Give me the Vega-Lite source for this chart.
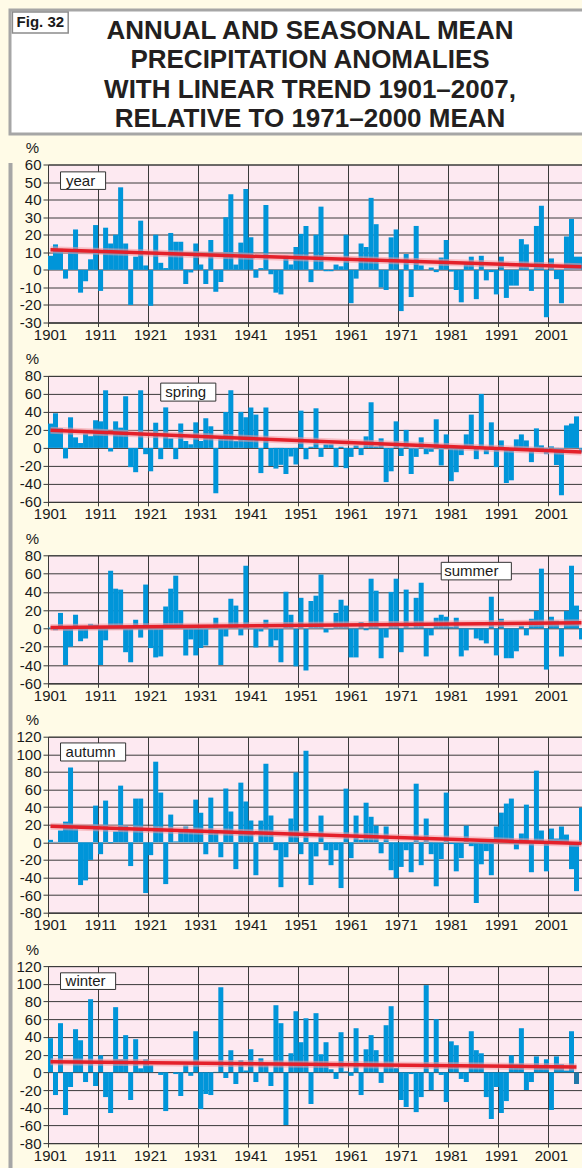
{
  "$schema": "https://vega.github.io/schema/vega-lite/v6.json",
  "background": "#fffbe7",
  "padding": {"left": 8, "top": 8, "right": 0, "bottom": 0},
  "config": {
    "font": "Liberation Sans",
    "view": {"fill": "#fde9f1", "stroke": "#3a3a3a", "strokeWidth": 1},
    "axis": {"labelFont": "Liberation Sans", "labelFontSize": 15, "labelColor": "#1a1a1a", "gridColor": "#3a3a3a", "gridOpacity": 1, "gridWidth": 1, "domainColor": "#3a3a3a", "tickColor": "#3a3a3a", "titleFont": "Liberation Sans", "titleFontSize": 15, "titleFontWeight": "normal", "titleColor": "#1a1a1a"},
    "axisY": {"grid": true, "labelOverlap": false, "tickCount": 30, "tickSize": 5, "labelPadding": 2, "titleAngle": 0, "titleX": -16, "titleY": -12, "titleAlign": "center", "titleBaseline": "alphabetic", "minExtent": 34.5}
  },
  "datasets": {
    "year": [
      {"year":1901,"value":8},{"year":1902,"value":14.5},{"year":1903,"value":12},{"year":1904,"value":-5},{"year":1905,"value":11},{"year":1906,"value":23},{"year":1907,"value":-13},{"year":1908,"value":-6.5},{"year":1909,"value":6},{"year":1910,"value":25.5},
      {"year":1911,"value":-12},{"year":1912,"value":24},{"year":1913,"value":15},{"year":1914,"value":20},{"year":1915,"value":47},{"year":1916,"value":15},{"year":1917,"value":-20},{"year":1918,"value":7.5},{"year":1919,"value":28},{"year":1920,"value":2.5},
      {"year":1921,"value":-20.5},{"year":1922,"value":20},{"year":1923,"value":4},{"year":1924,"value":1},{"year":1925,"value":21},{"year":1926,"value":16},{"year":1927,"value":16},{"year":1928,"value":-8},{"year":1929,"value":-1.5},{"year":1930,"value":15},
      {"year":1931,"value":3},{"year":1932,"value":-8},{"year":1933,"value":17},{"year":1934,"value":-12.5},{"year":1935,"value":-7},{"year":1936,"value":30},{"year":1937,"value":43},{"year":1938,"value":3},{"year":1939,"value":15.5},{"year":1940,"value":46},
      {"year":1941,"value":18.5},{"year":1942,"value":-4.5},{"year":1943,"value":1},{"year":1944,"value":37},{"year":1945,"value":-2.5},{"year":1946,"value":-13},{"year":1947,"value":-14},{"year":1948,"value":8},{"year":1949,"value":3},{"year":1950,"value":13},
      {"year":1951,"value":20.5},{"year":1952,"value":25},{"year":1953,"value":-7},{"year":1954,"value":20},{"year":1955,"value":36},{"year":1956,"value":-0.8},{"year":1957,"value":-0.8},{"year":1958,"value":3},{"year":1959,"value":2},{"year":1960,"value":20},
      {"year":1961,"value":-19},{"year":1962,"value":-5},{"year":1963,"value":15},{"year":1964,"value":13},{"year":1965,"value":41},{"year":1966,"value":26},{"year":1967,"value":-10},{"year":1968,"value":-11.5},{"year":1969,"value":18.5},{"year":1970,"value":23},
      {"year":1971,"value":-23.5},{"year":1972,"value":9},{"year":1973,"value":-15.5},{"year":1974,"value":25},{"year":1975,"value":2.5},{"year":1976,"value":0},{"year":1977,"value":1.3},{"year":1978,"value":-1.3},{"year":1979,"value":7},{"year":1980,"value":17},
      {"year":1981,"value":-1},{"year":1982,"value":-11.5},{"year":1983,"value":-18.5},{"year":1984,"value":4},{"year":1985,"value":7.5},{"year":1986,"value":-16.7},{"year":1987,"value":8},{"year":1988,"value":-6},{"year":1989,"value":-1.3},{"year":1990,"value":-14},
      {"year":1991,"value":7.5},{"year":1992,"value":-16},{"year":1993,"value":-9},{"year":1994,"value":-9},{"year":1995,"value":17.5},{"year":1996,"value":14.5},{"year":1997,"value":-12},{"year":1998,"value":25},{"year":1999,"value":36.5},{"year":2000,"value":-27},
      {"year":2001,"value":6.5},{"year":2002,"value":-5.3},{"year":2003,"value":-19},{"year":2004,"value":19},{"year":2005,"value":29},{"year":2006,"value":7.5},{"year":2007,"value":7.5}
    ],
    "spring": [
      {"year":1901,"value":27},{"year":1902,"value":38.5},{"year":1903,"value":22},{"year":1904,"value":-11.7},{"year":1905,"value":34},{"year":1906,"value":11.7},{"year":1907,"value":5.4},{"year":1908,"value":16},{"year":1909,"value":13},{"year":1910,"value":30.7},
      {"year":1911,"value":29.5},{"year":1912,"value":64},{"year":1913,"value":-4},{"year":1914,"value":29.5},{"year":1915,"value":22.5},{"year":1916,"value":57.4},{"year":1917,"value":-21.4},{"year":1918,"value":-27},{"year":1919,"value":64},{"year":1920,"value":-7},
      {"year":1921,"value":-26},{"year":1922,"value":28},{"year":1923,"value":-12.5},{"year":1924,"value":45},{"year":1925,"value":10.6},{"year":1926,"value":-12.5},{"year":1927,"value":27},{"year":1928,"value":7.6},{"year":1929,"value":4},{"year":1930,"value":28.4},
      {"year":1931,"value":7.6},{"year":1932,"value":33},{"year":1933,"value":24},{"year":1934,"value":-50.4},{"year":1935,"value":12},{"year":1936,"value":40},{"year":1937,"value":64},{"year":1938,"value":7.6},{"year":1939,"value":40},{"year":1940,"value":34},
      {"year":1941,"value":45},{"year":1942,"value":37},{"year":1943,"value":-28},{"year":1944,"value":45},{"year":1945,"value":-20},{"year":1946,"value":-23},{"year":1947,"value":-18.8},{"year":1948,"value":-29},{"year":1949,"value":-9.5},{"year":1950,"value":-18.4},
      {"year":1951,"value":41.4},{"year":1952,"value":-12.5},{"year":1953,"value":1.3},{"year":1954,"value":44},{"year":1955,"value":-10},{"year":1956,"value":4},{"year":1957,"value":4},{"year":1958,"value":-21.4},{"year":1959,"value":1.3},{"year":1960,"value":-22.5},
      {"year":1961,"value":-10},{"year":1962,"value":2.8},{"year":1963,"value":-8},{"year":1964,"value":12.8},{"year":1965,"value":50.7},{"year":1966,"value":1.7},{"year":1967,"value":10.6},{"year":1968,"value":-38},{"year":1969,"value":-26},{"year":1970,"value":29.5},
      {"year":1971,"value":-9},{"year":1972,"value":20},{"year":1973,"value":-29},{"year":1974,"value":-10},{"year":1975,"value":11.7},{"year":1976,"value":-7},{"year":1977,"value":-4.3},{"year":1978,"value":31.8},{"year":1979,"value":-19.5},{"year":1980,"value":15},
      {"year":1981,"value":-37},{"year":1982,"value":-27},{"year":1983,"value":-8},{"year":1984,"value":15},{"year":1985,"value":37},{"year":1986,"value":-12.5},{"year":1987,"value":60},{"year":1988,"value":-7},{"year":1989,"value":28.4},{"year":1990,"value":-21.4},
      {"year":1991,"value":8.3},{"year":1992,"value":-39},{"year":1993,"value":-36},{"year":1994,"value":9.5},{"year":1995,"value":15},{"year":1996,"value":8.3},{"year":1997,"value":-15.8},{"year":1998,"value":21.7},{"year":1999,"value":2.8},{"year":2000,"value":-7},
      {"year":2001,"value":1.7},{"year":2002,"value":-19},{"year":2003,"value":-52.6},{"year":2004,"value":25},{"year":2005,"value":27},{"year":2006,"value":35},{"year":2007,"value":-5}
    ],
    "summer": [
      {"year":1901,"value":1},{"year":1902,"value":-2},{"year":1903,"value":17},{"year":1904,"value":-40},{"year":1905,"value":-20},{"year":1906,"value":15},{"year":1907,"value":-14},{"year":1908,"value":-11},{"year":1909,"value":5},{"year":1910,"value":4},
      {"year":1911,"value":-40},{"year":1912,"value":-13},{"year":1913,"value":63},{"year":1914,"value":43.5},{"year":1915,"value":42.5},{"year":1916,"value":-26},{"year":1917,"value":-37},{"year":1918,"value":9.5},{"year":1919,"value":-10},{"year":1920,"value":48},
      {"year":1921,"value":-21.5},{"year":1922,"value":-31.7},{"year":1923,"value":-30.6},{"year":1924,"value":24},{"year":1925,"value":43.5},{"year":1926,"value":57.7},{"year":1927,"value":20},{"year":1928,"value":-29.5},{"year":1929,"value":-12},{"year":1930,"value":-29.5},
      {"year":1931,"value":-21.5},{"year":1932,"value":-18.6},{"year":1933,"value":0.5},{"year":1934,"value":11.7},{"year":1935,"value":-40},{"year":1936,"value":-8.7},{"year":1937,"value":32.5},{"year":1938,"value":25},{"year":1939,"value":-7.6},{"year":1940,"value":68.6},
      {"year":1941,"value":-1},{"year":1942,"value":-20.8},{"year":1943,"value":-3.3},{"year":1944,"value":9.5},{"year":1945,"value":-20},{"year":1946,"value":-13},{"year":1947,"value":-37},{"year":1948,"value":40},{"year":1949,"value":15},{"year":1950,"value":-41.5},
      {"year":1951,"value":33.5},{"year":1952,"value":-46},{"year":1953,"value":30},{"year":1954,"value":35.8},{"year":1955,"value":59},{"year":1956,"value":-4.4},{"year":1957,"value":-1},{"year":1958,"value":17},{"year":1959,"value":31.4},{"year":1960,"value":25},
      {"year":1961,"value":-31.7},{"year":1962,"value":-31.7},{"year":1963,"value":7},{"year":1964,"value":-2},{"year":1965,"value":54.4},{"year":1966,"value":41.3},{"year":1967,"value":-32.6},{"year":1968,"value":-10},{"year":1969,"value":40},{"year":1970,"value":54.4},
      {"year":1971,"value":-26},{"year":1972,"value":42.5},{"year":1973,"value":1},{"year":1974,"value":33.5},{"year":1975,"value":50},{"year":1976,"value":-30.6},{"year":1977,"value":-7.6},{"year":1978,"value":11.7},{"year":1979,"value":15},{"year":1980,"value":12.8},
      {"year":1981,"value":2},{"year":1982,"value":11.7},{"year":1983,"value":-30.6},{"year":1984,"value":-24},{"year":1985,"value":-1},{"year":1986,"value":-11},{"year":1987,"value":-13},{"year":1988,"value":-16.4},{"year":1989,"value":34.7},{"year":1990,"value":-29.5},
      {"year":1991,"value":10.6},{"year":1992,"value":-32.6},{"year":1993,"value":-32.6},{"year":1994,"value":-25},{"year":1995,"value":3},{"year":1996,"value":-7.6},{"year":1997,"value":10.6},{"year":1998,"value":19.3},{"year":1999,"value":65.4},{"year":2000,"value":-45},
      {"year":2001,"value":12.8},{"year":2002,"value":8.4},{"year":2003,"value":-30.6},{"year":2004,"value":19.3},{"year":2005,"value":68.6},{"year":2006,"value":25},{"year":2007,"value":-12}
    ],
    "autumn": [
      {"year":1901,"value":2.8},{"year":1902,"value":0.5},{"year":1903,"value":13.4},{"year":1904,"value":23.5},{"year":1905,"value":85},{"year":1906,"value":15},{"year":1907,"value":-48.6},{"year":1908,"value":-43.3},{"year":1909,"value":-20},{"year":1910,"value":41.7},
      {"year":1911,"value":-13.5},{"year":1912,"value":47.4},{"year":1913,"value":-1},{"year":1914,"value":12.3},{"year":1915,"value":64.4},{"year":1916,"value":19},{"year":1917,"value":-27},{"year":1918,"value":49.7},{"year":1919,"value":49.7},{"year":1920,"value":-57.7},
      {"year":1921,"value":-14.6},{"year":1922,"value":91.6},{"year":1923,"value":56.5},{"year":1924,"value":-47.5},{"year":1925,"value":31.5},{"year":1926,"value":1},{"year":1927,"value":13},{"year":1928,"value":18},{"year":1929,"value":14},{"year":1930,"value":48.5},
      {"year":1931,"value":33.7},{"year":1932,"value":-13.5},{"year":1933,"value":50.8},{"year":1934,"value":14},{"year":1935,"value":-17},{"year":1936,"value":61},{"year":1937,"value":35},{"year":1938,"value":-30.5},{"year":1939,"value":67.8},{"year":1940,"value":46.3},
      {"year":1941,"value":24.7},{"year":1942,"value":-37.4},{"year":1943,"value":24.7},{"year":1944,"value":89.4},{"year":1945,"value":30.4},{"year":1946,"value":-9},{"year":1947,"value":-51},{"year":1948,"value":-17},{"year":1949,"value":27},{"year":1950,"value":79.5},
      {"year":1951,"value":-13.5},{"year":1952,"value":104},{"year":1953,"value":-48.6},{"year":1954,"value":-16},{"year":1955,"value":30.4},{"year":1956,"value":-9},{"year":1957,"value":-26},{"year":1958,"value":-9},{"year":1959,"value":-52},{"year":1960,"value":61},
      {"year":1961,"value":-18},{"year":1962,"value":30.4},{"year":1963,"value":3},{"year":1964,"value":45},{"year":1965,"value":29},{"year":1966,"value":19},{"year":1967,"value":-12.5},{"year":1968,"value":18},{"year":1969,"value":-31.7},{"year":1970,"value":-40.7},
      {"year":1971,"value":-28},{"year":1972,"value":-9},{"year":1973,"value":-34},{"year":1974,"value":66.6},{"year":1975,"value":-26},{"year":1976,"value":27},{"year":1977,"value":-13.5},{"year":1978,"value":-50},{"year":1979,"value":-19},{"year":1980,"value":56.5},
      {"year":1981,"value":-2},{"year":1982,"value":-33},{"year":1983,"value":-18},{"year":1984,"value":19},{"year":1985,"value":-4.4},{"year":1986,"value":-69},{"year":1987,"value":-25},{"year":1988,"value":-10},{"year":1989,"value":-37.4},{"year":1990,"value":18},
      {"year":1991,"value":33.7},{"year":1992,"value":44},{"year":1993,"value":49.7},{"year":1994,"value":-8},{"year":1995,"value":10},{"year":1996,"value":42.8},{"year":1997,"value":-34},{"year":1998,"value":81.4},{"year":1999,"value":13.4},{"year":2000,"value":-33},
      {"year":2001,"value":15.6},{"year":2002,"value":4.3},{"year":2003,"value":18},{"year":2004,"value":8.8},{"year":2005,"value":-30.5},{"year":2006,"value":-55.5},{"year":2007,"value":39.5}
    ],
    "winter": [
      {"year":1901,"value":38.5},{"year":1902,"value":-25.7},{"year":1903,"value":55.5},{"year":1904,"value":-48.3},{"year":1905,"value":-16.6},{"year":1906,"value":48.7},{"year":1907,"value":36.2},{"year":1908,"value":-11},{"year":1909,"value":82.6},{"year":1910,"value":-15.5},
      {"year":1911,"value":19.2},{"year":1912,"value":-28},{"year":1913,"value":-46},{"year":1914,"value":73.6},{"year":1915,"value":14.7},{"year":1916,"value":42},{"year":1917,"value":-31.3},{"year":1918,"value":37.4},{"year":1919,"value":4.5},{"year":1920,"value":14.7},
      {"year":1921,"value":8},{"year":1922,"value":0},{"year":1923,"value":-3},{"year":1924,"value":-43.8},{"year":1925,"value":0},{"year":1926,"value":-2},{"year":1927,"value":-26.8},{"year":1928,"value":8},{"year":1929,"value":-4},{"year":1930,"value":46.4},
      {"year":1931,"value":-41.5},{"year":1932,"value":-24.5},{"year":1933,"value":-25.7},{"year":1934,"value":0.5},{"year":1935,"value":96.2},{"year":1936,"value":-6.4},{"year":1937,"value":25},{"year":1938,"value":-13.2},{"year":1939,"value":13.6},{"year":1940,"value":2},
      {"year":1941,"value":26},{"year":1942,"value":-11},{"year":1943,"value":15.8},{"year":1944,"value":8},{"year":1945,"value":-15.5},{"year":1946,"value":75.8},{"year":1947,"value":55.5},{"year":1948,"value":-59.6},{"year":1949,"value":21.5},{"year":1950,"value":69},
      {"year":1951,"value":34},{"year":1952,"value":61},{"year":1953,"value":-35.8},{"year":1954,"value":66.8},{"year":1955,"value":20.4},{"year":1956,"value":34},{"year":1957,"value":3.4},{"year":1958,"value":-7.5},{"year":1959,"value":45.3},{"year":1960,"value":1},
      {"year":1961,"value":-4},{"year":1962,"value":49.8},{"year":1963,"value":-25.7},{"year":1964,"value":26},{"year":1965,"value":42},{"year":1966,"value":25},{"year":1967,"value":-12},{"year":1968,"value":53.2},{"year":1969,"value":74.7},{"year":1970,"value":5},
      {"year":1971,"value":-31.3},{"year":1972,"value":-39.2},{"year":1973,"value":-2},{"year":1974,"value":-45},{"year":1975,"value":-28},{"year":1976,"value":98.5},{"year":1977,"value":-20},{"year":1978,"value":60},{"year":1979,"value":-3},{"year":1980,"value":-33.6},
      {"year":1981,"value":35},{"year":1982,"value":30.6},{"year":1983,"value":-7.5},{"year":1984,"value":-11},{"year":1985,"value":46.4},{"year":1986,"value":25},{"year":1987,"value":21.5},{"year":1988,"value":-28},{"year":1989,"value":-52.8},{"year":1990,"value":-16.6},
      {"year":1991,"value":-46},{"year":1992,"value":-32.5},{"year":1993,"value":19.2},{"year":1994,"value":9},{"year":1995,"value":49.8},{"year":1996,"value":-20},{"year":1997,"value":-11},{"year":1998,"value":18},{"year":1999,"value":5},{"year":2000,"value":14.7},
      {"year":2001,"value":-42.6},{"year":2002,"value":18},{"year":2003,"value":9},{"year":2004,"value":2},{"year":2005,"value":46.4},{"year":2006,"value":-13.2}
    ],
    "trend": [
      {"season":"year","year":1901,"value":11.4},{"season":"year","year":2007,"value":1.7},
      {"season":"spring","year":1901,"value":19.5},{"season":"spring","year":2007,"value":-4.5},
      {"season":"summer","year":1901,"value":1},{"season":"summer","year":2007,"value":6.2},
      {"season":"autumn","year":1901,"value":18.3},{"season":"autumn","year":2007,"value":-1.4},
      {"season":"winter","year":1901,"value":12},{"season":"winter","year":2006,"value":6}
    ]
  },
  "vconcat": [
    {
      "width": 600,
      "height": 124,
      "view": {"fill": "white", "stroke": "#a6a6a6", "strokeWidth": 3},
      "layer": [
        {
          "data": {"values": [
            {"line": 1, "text": "ANNUAL AND SEASONAL MEAN"},
            {"line": 2, "text": "PRECIPITATION ANOMALIES"},
            {"line": 3, "text": "WITH LINEAR TREND 1901–2007,"},
            {"line": 4, "text": "RELATIVE TO 1971–2000 MEAN"}
          ]},
          "mark": {"type": "text", "font": "Liberation Sans", "fontSize": 26, "fontWeight": "bold", "color": "#231f20"},
          "encoding": {
            "y": {"field": "line", "type": "ordinal", "axis": null, "scale": {"type": "point", "padding": 0.6, "align": 0.58}},
            "text": {"field": "text"}
          }
        },
        {
          "data": {"values": [{}]},
          "mark": {"type": "rect", "fill": "white", "stroke": "#8c8c8c", "strokeWidth": 1.5},
          "encoding": {
            "x": {"datum": 0.4, "type": "quantitative", "scale": {"domain": [0, 100]}, "axis": null},
            "x2": {"datum": 9.7},
            "y": {"datum": 98.4, "type": "quantitative", "scale": {"domain": [0, 100]}, "axis": null},
            "y2": {"datum": 81.5}
          }
        },
        {
          "data": {"values": [{}]},
          "mark": {"type": "text", "font": "Liberation Sans", "fontSize": 15, "fontWeight": "bold", "color": "#1a1a1a"},
          "encoding": {
            "x": {"datum": 5.05, "type": "quantitative", "scale": {"domain": [0, 100]}, "axis": null},
            "y": {"datum": 90, "type": "quantitative", "scale": {"domain": [0, 100]}, "axis": null},
            "text": {"value": "Fig. 32"}
          }
        }
      ],
      "resolve": {"scale": {"y": "independent"}}
    },
    {
      "hconcat": [
        {
          "width": 1, "height": 1003,
          "view": {"fill": "#a6a6a6", "stroke": "#a6a6a6", "strokeWidth": 3},
          "data": {"values": [{}]},
          "mark": {"type": "text", "text": ""}
        },
        {
          "vconcat": [
            {
              "width": 536, "height": 158,
              "layer": [
                {"data": {"name": "year"}, "mark": {"type": "bar", "color": "#0095d9"},
                 "encoding": {
                   "x": {"field": "year", "type": "ordinal", "scale": {"paddingInner": 0, "paddingOuter": 0}, "axis": {"values": [1901,1911,1921,1931,1941,1951,1961,1971,1981,1991,2001], "title": null, "bandPosition": 0, "grid": true, "labelAngle": 0, "tickSize": 4, "labelPadding": 1}},
                   "y": {"field": "value", "type": "quantitative", "scale": {"domain": [-30, 60], "nice": false}, "axis": {"values": [-30,-20,-10,0,10,20,30,40,50,60], "tickCount": 30, "title": "%", "grid": true, "labelOverlap": false, "labelExpr": "datum.value < 0 ? '-' + abs(datum.value) : '' + datum.value"}}
                 }},
                {"data": {"name": "trend"}, "transform": [{"filter": "datum.season == 'year'"}], "mark": {"type": "line", "color": "#f39aa0", "strokeWidth": 7, "opacity": 0.55},
                 "encoding": {"x": {"field": "year", "type": "ordinal"}, "y": {"field": "value", "type": "quantitative"}}},
                {"data": {"name": "trend"}, "transform": [{"filter": "datum.season == 'year'"}], "mark": {"type": "line", "color": "#e4202a", "strokeWidth": 3.5},
                 "encoding": {"x": {"field": "year", "type": "ordinal"}, "y": {"field": "value", "type": "quantitative"}}},
                {"data": {"values": [{}]}, "mark": {"type": "rect", "fill": "white", "stroke": "#333333", "strokeWidth": 1},
                 "encoding": {"x": {"datum": 1903, "type": "ordinal"}, "x2": {"datum": 1912}, "y": {"datum": 45.8, "type": "quantitative"}, "y2": {"datum": 55.8}}},
                {"data": {"values": [{}]}, "mark": {"type": "text", "fontSize": 15, "color": "#1a1a1a", "font": "Liberation Sans"},
                 "encoding": {"x": {"datum": 1907, "type": "ordinal"}, "y": {"datum": 50.8, "type": "quantitative"}, "text": {"value": "year"}}}
              ]
            },
            {
              "width": 536, "height": 126,
              "layer": [
                {"data": {"name": "spring"}, "mark": {"type": "bar", "color": "#0095d9"},
                 "encoding": {
                   "x": {"field": "year", "type": "ordinal", "scale": {"paddingInner": 0, "paddingOuter": 0}, "axis": {"values": [1901,1911,1921,1931,1941,1951,1961,1971,1981,1991,2001], "title": null, "bandPosition": 0, "grid": true, "labelAngle": 0, "tickSize": 4, "labelPadding": 1}},
                   "y": {"field": "value", "type": "quantitative", "scale": {"domain": [-60, 80], "nice": false}, "axis": {"values": [-60,-40,-20,0,20,40,60,80], "tickCount": 30, "title": "%", "grid": true, "labelOverlap": false, "labelExpr": "datum.value < 0 ? '-' + abs(datum.value) : '' + datum.value"}}
                 }},
                {"data": {"name": "trend"}, "transform": [{"filter": "datum.season == 'spring'"}], "mark": {"type": "line", "color": "#f39aa0", "strokeWidth": 7, "opacity": 0.55},
                 "encoding": {"x": {"field": "year", "type": "ordinal"}, "y": {"field": "value", "type": "quantitative"}}},
                {"data": {"name": "trend"}, "transform": [{"filter": "datum.season == 'spring'"}], "mark": {"type": "line", "color": "#e4202a", "strokeWidth": 3.5},
                 "encoding": {"x": {"field": "year", "type": "ordinal"}, "y": {"field": "value", "type": "quantitative"}}},
                {"data": {"values": [{}]}, "mark": {"type": "rect", "fill": "white", "stroke": "#333333", "strokeWidth": 1},
                 "encoding": {"x": {"datum": 1923, "type": "ordinal"}, "x2": {"datum": 1934}, "y": {"datum": 52, "type": "quantitative"}, "y2": {"datum": 72}}},
                {"data": {"values": [{}]}, "mark": {"type": "text", "fontSize": 15, "color": "#1a1a1a", "font": "Liberation Sans"},
                 "encoding": {"x": {"datum": 1928, "type": "ordinal"}, "y": {"datum": 62, "type": "quantitative"}, "text": {"value": "spring"}}}
              ]
            },
            {
              "width": 536, "height": 128,
              "layer": [
                {"data": {"name": "summer"}, "mark": {"type": "bar", "color": "#0095d9"},
                 "encoding": {
                   "x": {"field": "year", "type": "ordinal", "scale": {"paddingInner": 0, "paddingOuter": 0}, "axis": {"values": [1901,1911,1921,1931,1941,1951,1961,1971,1981,1991,2001], "title": null, "bandPosition": 0, "grid": true, "labelAngle": 0, "tickSize": 4, "labelPadding": 1}},
                   "y": {"field": "value", "type": "quantitative", "scale": {"domain": [-60, 80], "nice": false}, "axis": {"values": [-60,-40,-20,0,20,40,60,80], "tickCount": 30, "title": "%", "grid": true, "labelOverlap": false, "labelExpr": "datum.value < 0 ? '-' + abs(datum.value) : '' + datum.value"}}
                 }},
                {"data": {"name": "trend"}, "transform": [{"filter": "datum.season == 'summer'"}], "mark": {"type": "line", "color": "#f39aa0", "strokeWidth": 7, "opacity": 0.55},
                 "encoding": {"x": {"field": "year", "type": "ordinal"}, "y": {"field": "value", "type": "quantitative"}}},
                {"data": {"name": "trend"}, "transform": [{"filter": "datum.season == 'summer'"}], "mark": {"type": "line", "color": "#e4202a", "strokeWidth": 3.5},
                 "encoding": {"x": {"field": "year", "type": "ordinal"}, "y": {"field": "value", "type": "quantitative"}}},
                {"data": {"values": [{}]}, "mark": {"type": "rect", "fill": "white", "stroke": "#333333", "strokeWidth": 1},
                 "encoding": {"x": {"datum": 1979, "type": "ordinal"}, "x2": {"datum": 1993}, "y": {"datum": 53.1, "type": "quantitative"}, "y2": {"datum": 72.3}}},
                {"data": {"values": [{}]}, "mark": {"type": "text", "fontSize": 15, "color": "#1a1a1a", "font": "Liberation Sans"},
                 "encoding": {"x": {"datum": 1985, "type": "ordinal"}, "y": {"datum": 62.7, "type": "quantitative"}, "text": {"value": "summer"}}}
              ]
            },
            {
              "width": 536, "height": 176,
              "layer": [
                {"data": {"name": "autumn"}, "mark": {"type": "bar", "color": "#0095d9"},
                 "encoding": {
                   "x": {"field": "year", "type": "ordinal", "scale": {"paddingInner": 0, "paddingOuter": 0}, "axis": {"values": [1901,1911,1921,1931,1941,1951,1961,1971,1981,1991,2001], "title": null, "bandPosition": 0, "grid": true, "labelAngle": 0, "tickSize": 4, "labelPadding": 1}},
                   "y": {"field": "value", "type": "quantitative", "scale": {"domain": [-80, 120], "nice": false}, "axis": {"values": [-80,-60,-40,-20,0,20,40,60,80,100,120], "tickCount": 30, "title": "%", "grid": true, "labelOverlap": false, "labelExpr": "datum.value < 0 ? '-' + abs(datum.value) : '' + datum.value"}}
                 }},
                {"data": {"name": "trend"}, "transform": [{"filter": "datum.season == 'autumn'"}], "mark": {"type": "line", "color": "#f39aa0", "strokeWidth": 7, "opacity": 0.55},
                 "encoding": {"x": {"field": "year", "type": "ordinal"}, "y": {"field": "value", "type": "quantitative"}}},
                {"data": {"name": "trend"}, "transform": [{"filter": "datum.season == 'autumn'"}], "mark": {"type": "line", "color": "#e4202a", "strokeWidth": 3.5},
                 "encoding": {"x": {"field": "year", "type": "ordinal"}, "y": {"field": "value", "type": "quantitative"}}},
                {"data": {"values": [{}]}, "mark": {"type": "rect", "fill": "white", "stroke": "#333333", "strokeWidth": 1},
                 "encoding": {"x": {"datum": 1903, "type": "ordinal"}, "x2": {"datum": 1916}, "y": {"datum": 92.4, "type": "quantitative"}, "y2": {"datum": 112.9}}},
                {"data": {"values": [{}]}, "mark": {"type": "text", "fontSize": 15, "color": "#1a1a1a", "font": "Liberation Sans"},
                 "encoding": {"x": {"datum": 1909, "type": "ordinal"}, "y": {"datum": 102.6, "type": "quantitative"}, "text": {"value": "autumn"}}}
              ]
            },
            {
              "width": 536, "height": 177,
              "layer": [
                {"data": {"name": "winter"}, "mark": {"type": "bar"},
                 "encoding": {
                   "x": {"field": "year", "type": "ordinal", "scale": {"paddingInner": 0, "paddingOuter": 0}, "axis": {"values": [1901,1911,1921,1931,1941,1951,1961,1971,1981,1991,2001], "title": null, "bandPosition": 0, "grid": true, "labelAngle": 0, "tickSize": 4, "labelPadding": 1}},
                   "y": {"field": "value", "type": "quantitative", "scale": {"domain": [-80, 120], "nice": false}, "axis": {"values": [-80,-60,-40,-20,0,20,40,60,80,100,120], "tickCount": 30, "title": "%", "grid": true, "labelOverlap": false, "labelExpr": "datum.value < 0 ? '-' + abs(datum.value) : '' + datum.value"}},
                   "color": {"condition": {"test": "datum.year == 2006", "value": "#1f78a8"}, "value": "#0095d9"}
                 }},
                {"data": {"name": "trend"}, "transform": [{"filter": "datum.season == 'winter'"}], "mark": {"type": "line", "color": "#f39aa0", "strokeWidth": 7, "opacity": 0.55},
                 "encoding": {"x": {"field": "year", "type": "ordinal"}, "y": {"field": "value", "type": "quantitative"}}},
                {"data": {"name": "trend"}, "transform": [{"filter": "datum.season == 'winter'"}], "mark": {"type": "line", "color": "#e4202a", "strokeWidth": 3.5},
                 "encoding": {"x": {"field": "year", "type": "ordinal"}, "y": {"field": "value", "type": "quantitative"}}},
                {"data": {"values": [{}]}, "mark": {"type": "rect", "fill": "white", "stroke": "#333333", "strokeWidth": 1},
                 "encoding": {"x": {"datum": 1903, "type": "ordinal"}, "x2": {"datum": 1914}, "y": {"datum": 93.6, "type": "quantitative"}, "y2": {"datum": 112.4}}},
                {"data": {"values": [{}]}, "mark": {"type": "text", "fontSize": 15, "color": "#1a1a1a", "font": "Liberation Sans"},
                 "encoding": {"x": {"datum": 1908, "type": "ordinal"}, "y": {"datum": 103, "type": "quantitative"}, "text": {"value": "winter"}}}
              ]
            }
          ],
          "bounds": "full",
          "spacing": 7.4,
          "resolve": {"scale": {"x": "shared", "y": "independent"}, "axis": {"x": "independent", "y": "independent"}}
        }
      ],
      "spacing": 0,
      "bounds": "full"
    }
  ],
  "spacing": 3.5
}
